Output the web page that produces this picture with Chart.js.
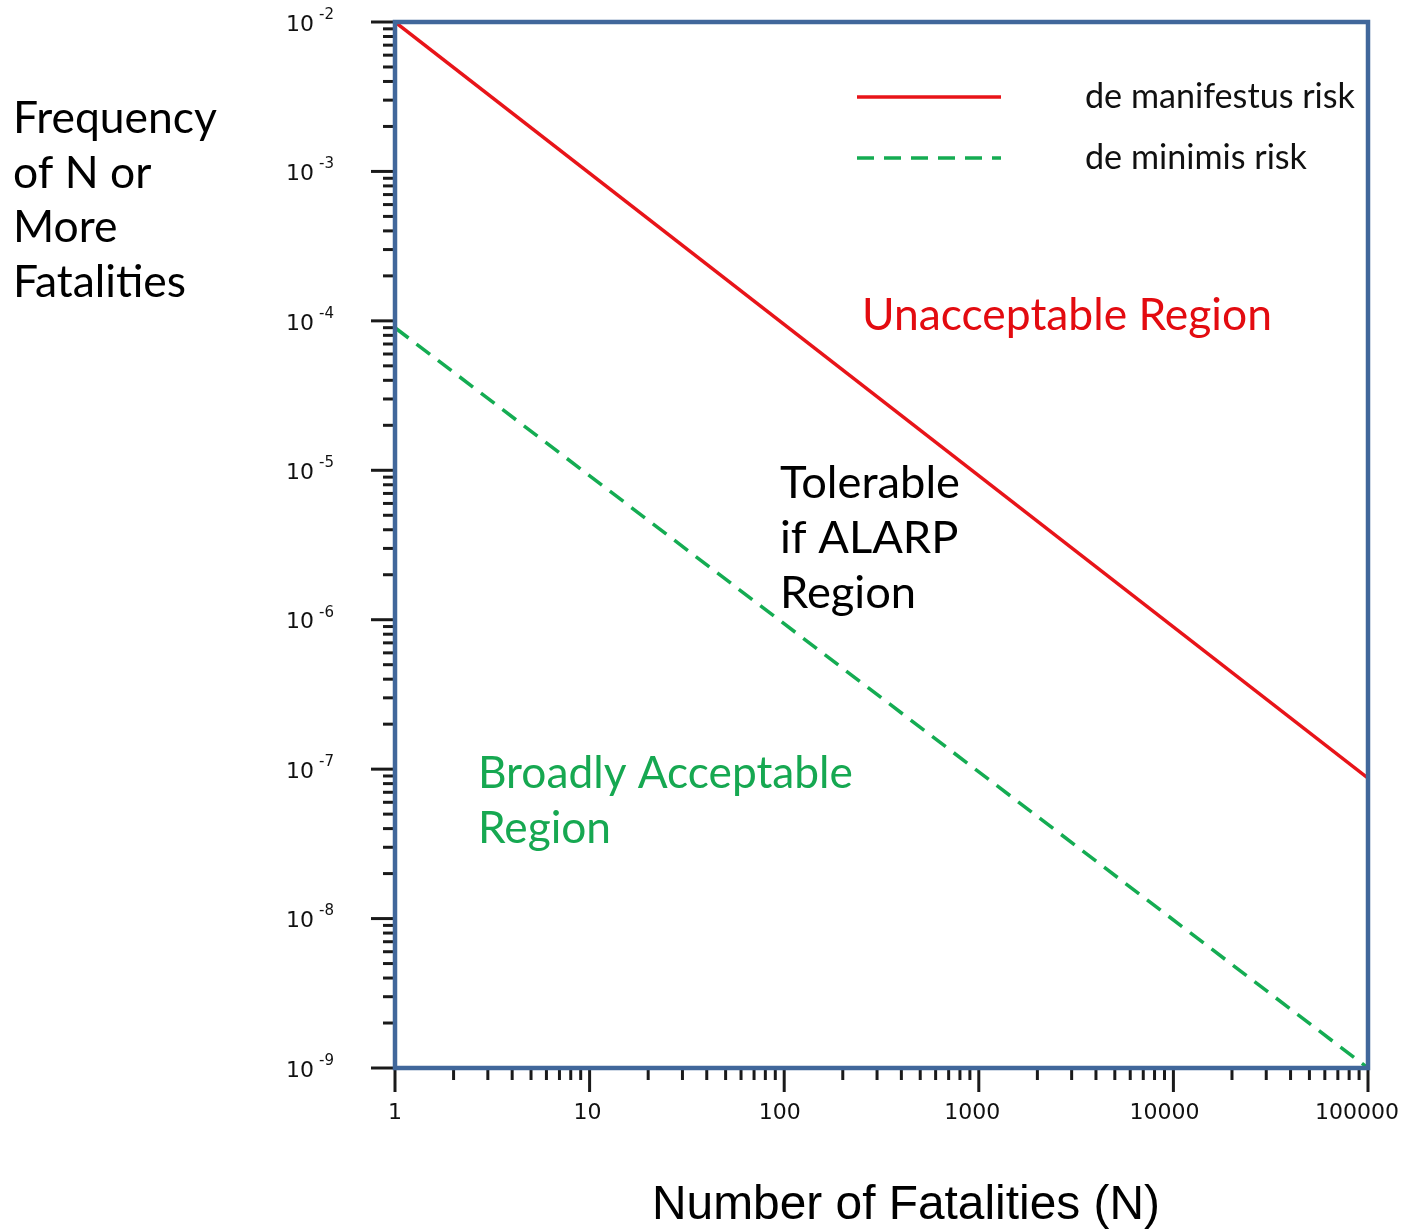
<!DOCTYPE html>
<html>
<head>
<meta charset="utf-8">
<script src="https://cdn.jsdelivr.net/npm/chart.js@4.4.1/dist/chart.umd.min.js"></script>
<style>
  html, body { margin: 0; padding: 0; background: #ffffff; }
  canvas { display: block; }
</style>
</head>
<body>
<canvas id="c" width="1403" height="1231"></canvas>
<script>
// ---- data ----
const fatalities = [1, 100000];              // N
const deManifestus = [1e-2, 8.7e-8];         // red solid
const deMinimis = [9e-5, 1e-9];              // green dashed
const xTickValues = [1, 10, 100, 1000, 10000, 100000];
const xTickLabels = ['1', '10', '100', '1000', '10000', '100000'];
const yExponents = [-2, -3, -4, -5, -6, -7, -8, -9];
const yTickBase = '10';
const seriesNames = ['de manifestus risk', 'de minimis risk'];
const yTitleLines = ['Frequency', 'of N or', 'More', 'Fatalities'];
const xTitle = 'Number of Fatalities (N)';

const RED = '#E81419';
const GREEN = '#14AC52';
const BORDER = '#41679B';
const TICK = '#1a1a1a';
const SANS = 'Lato, "Open Sans", sans-serif';
const TICKFONT = '"DejaVu Sans", Verdana, sans-serif';

function fitFont(ctx, text, width, family, weight) {
  ctx.font = (weight || '') + ' 100px ' + family;
  const w = ctx.measureText(text).width;
  return (weight || '') + ' ' + (100 * width / w).toFixed(2) + 'px ' + family;
}

const decor = {
  id: 'decor',
  afterDatasetsDraw(chart) {
    const ctx = chart.ctx;
    const a = chart.chartArea;
    const xs = chart.scales.x, ys = chart.scales.y;
    ctx.save();

    // ticks: y axis (outside left)
    ctx.strokeStyle = TICK;
    ctx.lineWidth = 3;
    for (let e = -9; e <= -2; e++) {
      for (let m = 1; m <= 9; m++) {
        if (e === -2 && m > 1) break;
        const v = m * Math.pow(10, e);
        const py = ys.getPixelForValue(v);
        const len = m === 1 ? 24 : 12;
        ctx.beginPath();
        ctx.moveTo(a.left - len, py);
        ctx.lineTo(a.left, py);
        ctx.stroke();
      }
    }
    // ticks: x axis (outside bottom)
    for (let d = 0; d <= 5; d++) {
      for (let m = 1; m <= 9; m++) {
        if (d === 5 && m > 1) break;
        const v = m * Math.pow(10, d);
        const px = xs.getPixelForValue(v);
        const len = m === 1 ? 24 : 12;
        ctx.beginPath();
        ctx.moveTo(px, a.bottom);
        ctx.lineTo(px, a.bottom + len);
        ctx.stroke();
      }
    }

    // plot border
    ctx.strokeStyle = BORDER;
    ctx.lineWidth = 4.5;
    ctx.strokeRect(a.left, a.top, a.right - a.left, a.bottom - a.top);

    // y tick labels 10^e
    ctx.fillStyle = '#111111';
    yExponents.forEach(e => {
      const py = ys.getPixelForValue(Math.pow(10, e));
      ctx.font = '22px ' + TICKFONT;
      ctx.textAlign = 'right';
      ctx.textBaseline = 'middle';
      ctx.fillText(yTickBase, a.left - 81, py + 3);
      ctx.font = '15px ' + TICKFONT;
      ctx.textAlign = 'left';
      ctx.fillText(String(e), a.left - 76, py - 7);
    });
    // x tick labels
    ctx.font = '22px ' + TICKFONT;
    ctx.textAlign = 'center';
    ctx.textBaseline = 'middle';
    xTickValues.forEach((v, i) => {
      const lbl = xTickLabels[i];
      const off = -2.2 * (lbl.length - 1);
      ctx.fillText(lbl, xs.getPixelForValue(v) + off, a.bottom + 45);
    });

    // axis titles
    ctx.fillStyle = '#000000';
    ctx.textAlign = 'left';
    ctx.textBaseline = 'alphabetic';
    ctx.font = fitFont(ctx, yTitleLines[0], 204, SANS);
    yTitleLines.forEach((t, i) => ctx.fillText(t, 13, 133 + i * 54.7));
    ctx.font = fitFont(ctx, xTitle, 508, '"Liberation Sans", Arial, sans-serif');
    ctx.fillText(xTitle, 652, 1219);

    // legend
    const ds = chart.data.datasets;
    const legY = [a.top + 75, a.top + 136];
    ds.forEach((d, i) => {
      ctx.strokeStyle = d.borderColor;
      ctx.lineWidth = d.borderWidth;
      ctx.setLineDash(d.borderDash || []);
      ctx.beginPath();
      ctx.moveTo(857, legY[i]);
      ctx.lineTo(1001, legY[i]);
      ctx.stroke();
    });
    ctx.setLineDash([]);
    ctx.fillStyle = '#111111';
    ctx.font = fitFont(ctx, ds[0].label, 270, SANS);
    ds.forEach((d, i) => ctx.fillText(d.label, 1085, legY[i] + 11));

    // region annotations
    ctx.fillStyle = '#E30B10';
    ctx.font = fitFont(ctx, 'Unacceptable Region', 410, SANS);
    ctx.fillText('Unacceptable Region', 862, 330);

    ctx.fillStyle = '#000000';
    ctx.font = fitFont(ctx, 'Tolerable', 180, SANS);
    ['Tolerable', 'if ALARP', 'Region'].forEach((t, i) => ctx.fillText(t, 780, 498 + i * 55));

    ctx.fillStyle = '#16A851';
    ctx.font = fitFont(ctx, 'Broadly Acceptable', 375, SANS);
    ['Broadly Acceptable', 'Region'].forEach((t, i) => ctx.fillText(t, 478, 788 + i * 55));

    ctx.restore();
  }
};

new Chart(document.getElementById('c'), {
  type: 'line',
  data: {
    datasets: [
      {
        label: seriesNames[0],
        data: fatalities.map((n, i) => ({ x: n, y: deManifestus[i] })),
        borderColor: RED,
        borderWidth: 3.5,
        pointRadius: 0,
        fill: false
      },
      {
        label: seriesNames[1],
        data: fatalities.map((n, i) => ({ x: n, y: deMinimis[i] })),
        borderColor: GREEN,
        borderWidth: 3.5,
        borderDash: [17, 10],
        pointRadius: 0,
        fill: false
      }
    ]
  },
  options: {
    responsive: false,
    animation: false,
    layout: { padding: { left: 395, top: 22, right: 35, bottom: 163 } },
    plugins: { legend: { display: false }, tooltip: { enabled: false } },
    scales: {
      x: { type: 'logarithmic', min: 1, max: 100000, display: false },
      y: { type: 'logarithmic', min: 1e-9, max: 1e-2, display: false }
    }
  },
  plugins: [decor]
});
</script>
</body>
</html>
